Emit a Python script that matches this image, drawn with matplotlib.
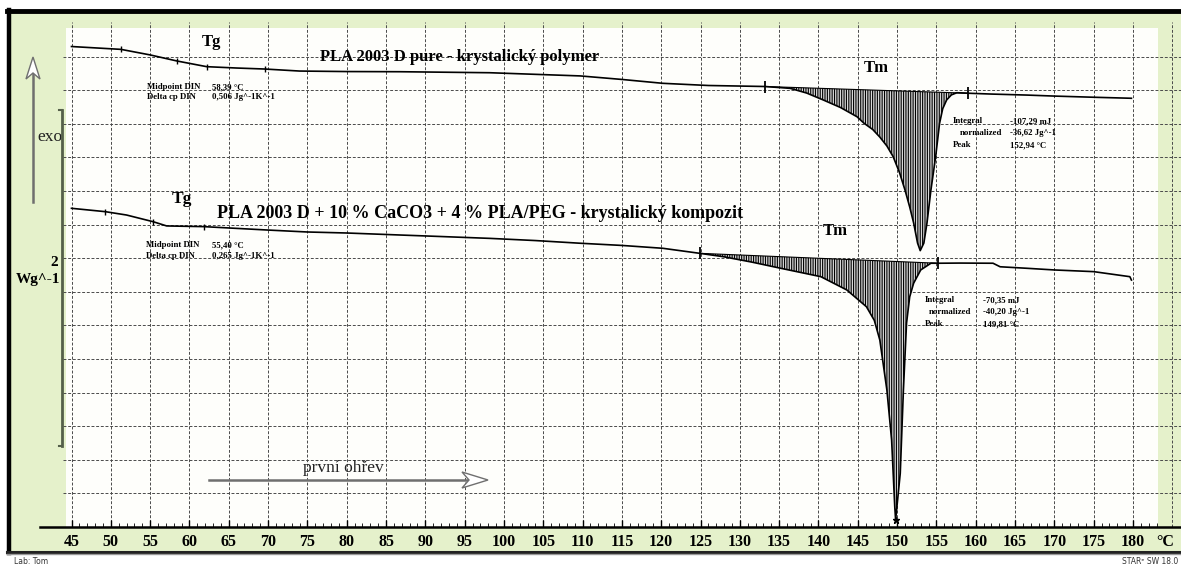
import numpy as np
import matplotlib
matplotlib.use("Agg")
import matplotlib.pyplot as plt
from matplotlib.patches import Rectangle, Polygon
from matplotlib.lines import Line2D

# ---------------- data (temperature in °C, heat flow in W/g) ----------------
temp_pure = [45.0, 51.3, 55.0, 58.4, 62.2, 66.0, 69.6, 74.0, 80.0, 86.8, 98.2, 109.7,
             115.0, 120.2, 126.0, 133.2, 136.4, 138.5, 140.6, 142.8, 144.9, 145.8,
             146.9, 147.8, 148.7, 149.5, 150.3, 151.0, 151.6, 152.1, 152.6, 152.94,
             153.4, 153.8, 154.3, 154.9, 155.4, 155.8, 156.3, 156.9, 157.6, 159.0,
             162.0, 166.5, 170.0, 175.0, 179.8]
hf_pure = [2.860, 2.843, 2.810, 2.774, 2.740, 2.732, 2.726, 2.714, 2.711, 2.710, 2.704,
           2.685, 2.664, 2.641, 2.628, 2.622, 2.611, 2.583, 2.542, 2.497, 2.442, 2.403,
           2.366, 2.321, 2.268, 2.204, 2.110, 2.006, 1.905, 1.810, 1.690, 1.645,
           1.690, 1.810, 2.006, 2.204, 2.403, 2.490, 2.542, 2.572, 2.585, 2.582,
           2.577, 2.571, 2.565, 2.558, 2.552]

temp_comp = [45.0, 49.3, 52.0, 55.4, 57.1, 61.8, 65.0, 69.8, 75.0, 80.0, 86.8, 92.0,
             98.2, 104.0, 109.7, 115.0, 120.2, 124.9, 127.9, 131.5, 135.2, 140.3,
             143.6, 146.1, 147.1, 147.8, 148.7, 149.3, 149.7, 149.81, 150.4, 150.8,
             151.2, 151.6, 152.1, 153.0, 154.3, 155.2, 158.0, 162.2, 163.1, 166.5,
             170.0, 175.0, 179.6, 179.8]
hf_comp = [1.897, 1.877, 1.857, 1.817, 1.792, 1.788, 1.780, 1.768, 1.756, 1.750, 1.738,
           1.729, 1.718, 1.705, 1.689, 1.676, 1.659, 1.629, 1.609, 1.577, 1.540, 1.490,
           1.411, 1.311, 1.230, 1.113, 0.815, 0.518, 0.121, 0.042, 0.320, 0.815,
           1.214, 1.370, 1.451, 1.530, 1.570, 1.570, 1.571, 1.570, 1.549, 1.540,
           1.530, 1.520, 1.490, 1.470]

pure_limits = [133.2, 159.0]
comp_limits = [124.9, 155.2]
pure_tg_marks = [51.3, 58.4, 62.2, 69.6]
comp_tg_marks = [49.3, 55.4, 61.8]
comp_peak_temp = 149.81
x_ticks = list(range(45, 185, 5))
grid_x = list(range(45, 190, 5))
scale_bar_wg = 2.0

title_pure = "PLA 2003 D pure - krystalický polymer"
title_comp = "PLA 2003 D + 10 % CaCO3 + 4 % PLA/PEG - krystalický kompozit"
tg_pure_text = ["Midpoint DIN", "58,39 °C", "Delta cp DIN", "0,506 Jg^-1K^-1"]
tg_comp_text = ["Midpoint DIN", "55,40 °C", "Delta cp DIN", "0,265 Jg^-1K^-1"]
int_pure_text = [("Integral", "-107,29 mJ"), ("normalized", "-36,62 Jg^-1"), ("Peak", "152,94 °C")]
int_comp_text = [("Integral", "-70,35 mJ"), ("normalized", "-40,20 Jg^-1"), ("Peak", "149,81 °C")]

# ---------------- layout ----------------
W, H = 1181, 569
fig = plt.figure(figsize=(W / 100, H / 100), dpi=100, facecolor="white")

def fx(px):
    return px / W

def fy(py):
    return 1 - py / H

GREEN = "#e5f1cb"
SERIF = ["Liberation Serif", "DejaVu Serif"]

# outer frame + green background
fig.add_artist(Rectangle((fx(9), fy(551)), fx(1181) - fx(9), fy(12) - fy(551),
                         transform=fig.transFigure, facecolor=GREEN, edgecolor="none", zorder=0))
fig.add_artist(Line2D([fx(7), fx(1181)], [fy(11), fy(11)], transform=fig.transFigure,
                      color="black", lw=3.5, zorder=5))
fig.add_artist(Line2D([fx(8.5), fx(8.5)], [fy(10), fy(553)], transform=fig.transFigure,
                      color="black", lw=3.2, zorder=5))
fig.add_artist(Line2D([fx(7), fx(1181)], [fy(551.5), fy(551.5)], transform=fig.transFigure,
                      color="#222222", lw=2.2, zorder=5))
fig.add_artist(Line2D([fx(7), fx(1181)], [fy(554), fy(554)], transform=fig.transFigure,
                      color="#999999", lw=1.0, zorder=5))

ax = fig.add_axes([fx(66), fy(527), fx(1158) - fx(66), fy(28) - fy(527)])
ax.set_facecolor("#fefefb")
x_left = 45 + (66 - 71.5) / 7.863
x_right = 45 + (1158 - 71.5) / 7.863
ax.set_xlim(x_left, x_right)
ax.set_ylim(0, (527 - 28) / 168)
for s in ax.spines.values():
    s.set_visible(False)
ax.set_yticks([])

# grid (extends slightly into the green frame)
gx0 = 45 + (63 - 71.5) / 7.863
gx1 = 45 + (1181 - 71.5) / 7.863
for gx in grid_x:
    ax.plot([gx, gx], [0, (527 - 22) / 168], color="#4a4a4a", lw=0.7,
            ls=(0, (3, 1.8)), clip_on=False, zorder=1)
for gy in np.arange(0.2, 2.95, 0.2):
    ax.plot([gx0, gx1], [gy, gy], color="#4a4a4a", lw=0.7,
            ls=(0, (3, 1.8)), clip_on=False, zorder=1)

# x axis ruler
ax.plot([45 + (40 - 71.5) / 7.863, gx1], [0, 0], color="black", lw=1.8, clip_on=False, zorder=4)
ax.set_xticks(x_ticks)
ax.set_xticklabels([str(t) for t in x_ticks], fontfamily=SERIF, fontweight="bold", fontsize=11.5)
ax.set_xticks(np.arange(45, 184, 1), minor=True)
ax.tick_params(axis="x", which="major", direction="in", length=5, width=1.0, pad=5)
ax.tick_params(axis="x", which="minor", direction="in", length=3, width=0.6)
fig.text(fx(1165), fy(542), "°C", fontfamily=SERIF, fontweight="bold", fontsize=11.5,
         ha="center", va="center")

# curves
tp = np.array(temp_pure); hp = np.array(hf_pure)
tc = np.array(temp_comp); hc = np.array(hf_comp)
ax.plot(tp, hp, color="black", lw=1.2, zorder=6)
ax.plot(tc, hc, color="black", lw=1.2, zorder=6)

plt.rcParams["hatch.linewidth"] = 0.8

def hatch_peak(t, h, lims):
    b = np.interp(lims, t, h)
    m = (t >= lims[0]) & (t <= lims[1])
    tt = t[m]
    base = np.interp(tt, lims, b)
    ax.fill_between(tt, base, h[m], facecolor="#d8d8d8", edgecolor="black",
                    hatch="|||||||", linewidth=0, zorder=3)
    ax.plot(lims, b, color="black", lw=0.8, zorder=6)
    ax.plot(lims, b, ls="none", marker="|", ms=8, mew=1.3, color="black", zorder=7)

hatch_peak(tp, hp, pure_limits)
hatch_peak(tc, hc, comp_limits)

ax.plot(pure_tg_marks, np.interp(pure_tg_marks, tp, hp), ls="none", marker="|",
        ms=5, mew=1.0, color="black", zorder=7)
ax.plot(comp_tg_marks, np.interp(comp_tg_marks, tc, hc), ls="none", marker="|",
        ms=5, mew=1.0, color="black", zorder=7)
ax.plot([comp_peak_temp], [np.interp(comp_peak_temp, tc, hc)], ls="none", marker="*",
        ms=5, color="black", zorder=7)

def T(px):
    return 45 + (px - 71.5) / 7.863

def Y(py):
    return (527 - py) / 168

bold = dict(fontfamily=SERIF, fontweight="bold", color="black", zorder=8)

ax.text(T(211), Y(42), "Tg", fontsize=12, ha="center", va="center", **bold)
ax.text(T(182), Y(199), "Tg", fontsize=12.5, ha="center", va="center", **bold)
ax.text(T(320), Y(57), title_pure, fontsize=12, ha="left", va="center", **bold)
ax.text(T(217), Y(213), title_comp, fontsize=13, ha="left", va="center", **bold)
ax.text(T(876), Y(68), "Tm", fontsize=12, ha="center", va="center", **bold)
ax.text(T(835), Y(231), "Tm", fontsize=12, ha="center", va="center", **bold)

small = dict(fontfamily=SERIF, fontweight="bold", fontsize=6.3, color="black",
             va="center", zorder=8)
ax.text(T(147), Y(87), tg_pure_text[0], ha="left", **small)
ax.text(T(212), Y(87), tg_pure_text[1], ha="left", **small)
ax.text(T(147), Y(97), tg_pure_text[2], ha="left", **small)
ax.text(T(212), Y(97), tg_pure_text[3], ha="left", **small)
ax.text(T(146), Y(245), tg_comp_text[0], ha="left", **small)
ax.text(T(212), Y(245), tg_comp_text[1], ha="left", **small)
ax.text(T(146), Y(256), tg_comp_text[2], ha="left", **small)
ax.text(T(212), Y(256), tg_comp_text[3], ha="left", **small)

for (lab, val), py, lx in zip(int_pure_text, [121, 133, 145], [953, 960, 953]):
    ax.text(T(lx), Y(py), lab, ha="left", **small)
    ax.text(T(1010), Y(py), val, ha="left", **small)
for (lab, val), py, lx in zip(int_comp_text, [300, 312, 324], [925, 929, 925]):
    ax.text(T(lx), Y(py), lab, ha="left", **small)
    ax.text(T(983), Y(py), val, ha="left", **small)

# heating direction arrow
ARROW = "#6f6f6f"
ax.text(T(343), Y(468), "první ohřev", fontfamily=SERIF, fontsize=12.5, ha="center",
        va="center", color="#222222", zorder=8)
ax.plot([T(209), T(470)], [Y(480), Y(480)], color=ARROW, lw=1.8, zorder=8)
ax.add_patch(Polygon([[T(462), Y(472)], [T(488), Y(480)], [T(462), Y(488)], [T(469), Y(480)]],
                     closed=True, facecolor="white", edgecolor=ARROW, lw=1.0, zorder=9))

# exo arrow on the left
fig.add_artist(Line2D([fx(33), fx(33)], [fy(202), fy(74)], transform=fig.transFigure,
                      color=ARROW, lw=1.8, zorder=6))
fig.add_artist(Polygon([[fx(26), fy(79)], [fx(33), fy(57)], [fx(40), fy(79)], [fx(33), fy(73)]],
                       closed=True, transform=fig.transFigure, facecolor="white",
                       edgecolor=ARROW, lw=1.0, zorder=7))
fig.text(fx(50), fy(137), "exo", fontfamily=SERIF, fontsize=12.5, ha="center", va="center",
         color="#222222")

# scale bar (2 W/g)
sb_bottom = Y(446)
bar_tr = matplotlib.transforms.blended_transform_factory(fig.transFigure, ax.transData)
fig.add_artist(Line2D([fx(62), fx(62)], [sb_bottom, sb_bottom + scale_bar_wg],
                      transform=bar_tr, color="#55604a", lw=2.0, zorder=6))
fig.add_artist(Line2D([fx(59), fx(62)], [sb_bottom + scale_bar_wg] * 2,
                      transform=bar_tr, color="#55604a", lw=1.5, zorder=6))
fig.add_artist(Line2D([fx(59), fx(62)], [sb_bottom] * 2,
                      transform=bar_tr, color="#55604a", lw=1.5, zorder=6))
fig.text(fx(54), fy(263), "2", fontfamily=SERIF, fontweight="bold", fontsize=11,
         ha="center", va="center")
fig.text(fx(38), fy(279), "Wg^-1", fontfamily=SERIF, fontweight="bold", fontsize=11,
         ha="center", va="center")

# footer
fig.text(fx(14), fy(562), "Lab: Tom", fontfamily="DejaVu Sans", fontsize=5.5, ha="left",
         va="center", color="#333333")
fig.text(fx(1178), fy(562), "STARᵉ SW 18.0", fontfamily="DejaVu Sans", fontsize=5.5,
         ha="right", va="center", color="#333333")

fig.savefig("out.png", dpi=100, facecolor="white")
